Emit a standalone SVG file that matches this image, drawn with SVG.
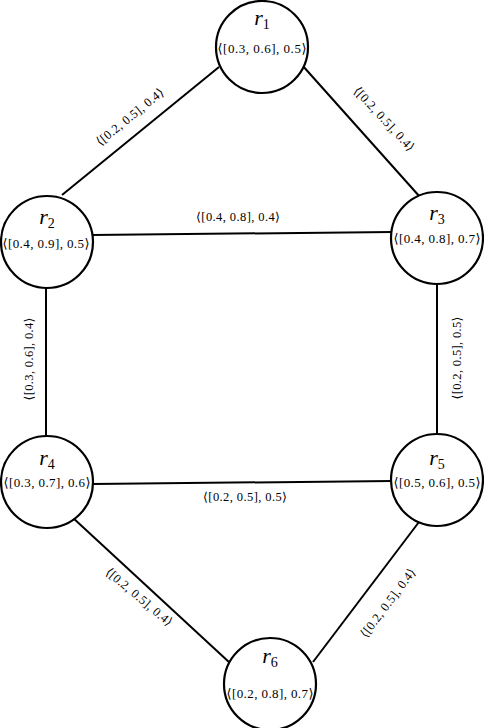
<svg xmlns="http://www.w3.org/2000/svg" width="484" height="728" viewBox="0 0 484 728">
<style>
.bg{fill:#fff}
.node circle{fill:#fff;stroke:#000;stroke-width:2.2}
.nm{font-family:"Liberation Serif",serif;font-style:italic;font-size:22px;text-anchor:middle}
.sub{font-style:normal;font-size:14px}
.nl{font-family:"Liberation Serif","DejaVu Serif",serif;font-size:13px;text-anchor:middle}
.el{font-family:"Liberation Serif","DejaVu Serif",serif;font-size:12.5px;text-anchor:middle;dominant-baseline:central}
#edges line{stroke:#000;stroke-width:2}
</style>
<rect class="bg" width="484" height="728"/>
<g id="edges">
<line x1="62" y1="195" x2="219" y2="67"/>
<line x1="302" y1="65" x2="420" y2="197"/>
<line x1="92" y1="235" x2="392" y2="232"/>
<line x1="46" y1="287" x2="46" y2="436"/>
<line x1="437" y1="283" x2="437" y2="434"/>
<line x1="93" y1="484" x2="392" y2="481"/>
<line x1="72" y1="517" x2="230" y2="663"/>
<line x1="422" y1="518" x2="313" y2="662"/>
<text class="el" transform="translate(130,117) rotate(-39)" textLength="83">⟨[0.2, 0.5], 0.4⟩</text>
<text class="el" transform="translate(384,119) rotate(47)" textLength="83">⟨[0.2, 0.5], 0.4⟩</text>
<text class="el" x="238" y="217" textLength="84">⟨[0.4, 0.8], 0.4⟩</text>
<text class="el" transform="translate(29,359) rotate(-90)" textLength="83">⟨[0.3, 0.6], 0.4⟩</text>
<text class="el" transform="translate(457,358) rotate(-90)" textLength="83">⟨[0.2, 0.5], 0.5⟩</text>
<text class="el" x="245" y="497" textLength="84">⟨[0.2, 0.5], 0.5⟩</text>
<text class="el" transform="translate(139,597) rotate(40)" textLength="83">⟨[0.2, 0.5], 0.4⟩</text>
<text class="el" transform="translate(388,603) rotate(-53)" textLength="83">⟨[0.2, 0.5], 0.4⟩</text>
</g>
<g id="r1" class="node"><circle cx="262" cy="47" r="46"/><text class="nm" x="262" y="25">r<tspan class="sub" dy="4">1</tspan></text><text class="nl" x="262" y="53" textLength="89">⟨[0.3, 0.6], 0.5⟩</text></g>
<g id="r2" class="node"><circle cx="47" cy="242" r="46"/><text class="nm" x="47" y="224">r<tspan class="sub" dy="4">2</tspan></text><text class="nl" x="46" y="248" textLength="87">⟨[0.4, 0.9], 0.5⟩</text></g>
<g id="r3" class="node"><circle cx="437" cy="238" r="46"/><text class="nm" x="437" y="220">r<tspan class="sub" dy="4">3</tspan></text><text class="nl" x="437" y="243" textLength="87">⟨[0.4, 0.8], 0.7⟩</text></g>
<g id="r4" class="node"><circle cx="47" cy="482" r="46"/><text class="nm" x="47" y="465">r<tspan class="sub" dy="4">4</tspan></text><text class="nl" x="47" y="487" textLength="87">⟨[0.3, 0.7], 0.6⟩</text></g>
<g id="r5" class="node"><circle cx="437" cy="480" r="46"/><text class="nm" x="437" y="465">r<tspan class="sub" dy="4">5</tspan></text><text class="nl" x="437" y="487" textLength="87">⟨[0.5, 0.6], 0.5⟩</text></g>
<g id="r6" class="node"><circle cx="270" cy="684" r="46"/><text class="nm" x="270" y="663">r<tspan class="sub" dy="4">6</tspan></text><text class="nl" x="270" y="698" textLength="87">⟨[0.2, 0.8], 0.7⟩</text></g>
</svg>
